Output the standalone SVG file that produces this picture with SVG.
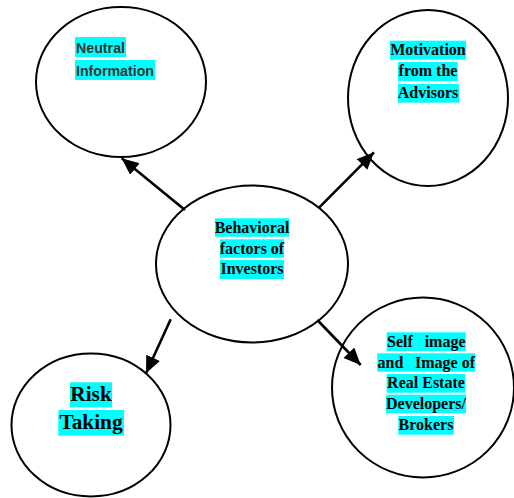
<svg xmlns="http://www.w3.org/2000/svg" width="514" height="498" viewBox="0 0 514 498">
<defs>
<style>
.node ellipse{fill:#fff;stroke:#000;stroke-width:2}
.hl{fill:#00ffff}
.t{font-family:"Liberation Serif","Times New Roman",serif;font-weight:bold;font-size:16px;fill:#000;text-anchor:middle}
.big{font-size:21.33px}
.s{font-family:"Liberation Sans",Arial,sans-serif;font-weight:bold;font-size:14.5px;fill:#333}
.conn line{stroke:#000;stroke-width:2.6}
</style>
<marker id="arr" markerUnits="userSpaceOnUse" markerWidth="20" markerHeight="16" refX="17" refY="7.5" orient="auto" viewBox="0 0 20 16">
<path d="M0,0 L17,7.5 L0,15 Z" fill="#000"/>
</marker>
</defs>
<rect width="514" height="498" fill="#fff"/>

<g id="neutral" class="node">
<ellipse cx="121" cy="82" rx="85" ry="75"/>
<rect class="hl" x="75" y="37" width="51" height="20"/>
<rect class="hl" x="75" y="60" width="80" height="20"/>
<text class="s" x="76" y="52.5" textLength="49" lengthAdjust="spacingAndGlyphs">Neutral</text>
<text class="s" x="76" y="75.5" textLength="78" lengthAdjust="spacingAndGlyphs">Information</text>
</g>

<g id="motivation" class="node">
<ellipse cx="428" cy="98" rx="80" ry="88"/>
<rect class="hl" x="390" y="40.7" width="76" height="19"/>
<rect class="hl" x="398" y="62" width="59.7" height="19"/>
<rect class="hl" x="398" y="84" width="61" height="18.7"/>
<text class="t" x="428" y="55">Motivation</text>
<text class="t" x="428" y="76.3">from the</text>
<text class="t" x="428" y="98.3">Advisors</text>
</g>

<g id="center" class="node">
<ellipse cx="252" cy="264" rx="96" ry="78.5"/>
<rect class="hl" x="215" y="218.3" width="74.3" height="18.4"/>
<rect class="hl" x="220" y="239.3" width="64" height="18.4"/>
<rect class="hl" x="220" y="260" width="64" height="19"/>
<text class="t" x="252" y="232.6">Behavioral</text>
<text class="t" x="252" y="253.6">factors of</text>
<text class="t" x="252" y="274.3">Investors</text>
</g>

<g id="risk" class="node">
<ellipse cx="91" cy="425" rx="79.5" ry="71.5"/>
<rect class="hl" x="70" y="382.3" width="42" height="25"/>
<rect class="hl" x="58.3" y="410" width="65.7" height="25.7"/>
<text class="t big" x="91" y="401.3">Risk</text>
<text class="t big" x="91" y="429">Taking</text>
</g>

<g id="selfimage" class="node">
<ellipse cx="423" cy="387.5" rx="91" ry="90"/>
<rect class="hl" x="386.7" y="332.3" width="79" height="18.7"/>
<rect class="hl" x="377.3" y="353.3" width="97.7" height="18.4"/>
<rect class="hl" x="386.7" y="374" width="78.6" height="18.7"/>
<rect class="hl" x="386" y="394.7" width="80" height="18.6"/>
<rect class="hl" x="398.3" y="416" width="55.7" height="18.7"/>
<text class="t" x="387" y="346.6" style="text-anchor:start">Self</text>
<text class="t" x="465.5" y="346.6" style="text-anchor:end">image</text>
<text class="t" x="377.5" y="367.6" style="text-anchor:start">and</text>
<text class="t" x="475" y="367.6" style="text-anchor:end">Image of</text>
<text class="t" x="426" y="388.3">Real Estate</text>
<text class="t" x="426" y="409">Developers/</text>
<text class="t" x="426" y="430.3">Brokers</text>
</g>

<g id="connectors" class="conn">
<line x1="185" y1="210" x2="121.7" y2="158.3" marker-end="url(#arr)"/>
<line x1="318.3" y1="208.3" x2="374" y2="152.3" marker-end="url(#arr)"/>
<line x1="170.7" y1="319.3" x2="146" y2="373.3" marker-end="url(#arr)"/>
<line x1="317.3" y1="320" x2="360.7" y2="365" marker-end="url(#arr)"/>
</g>
</svg>
